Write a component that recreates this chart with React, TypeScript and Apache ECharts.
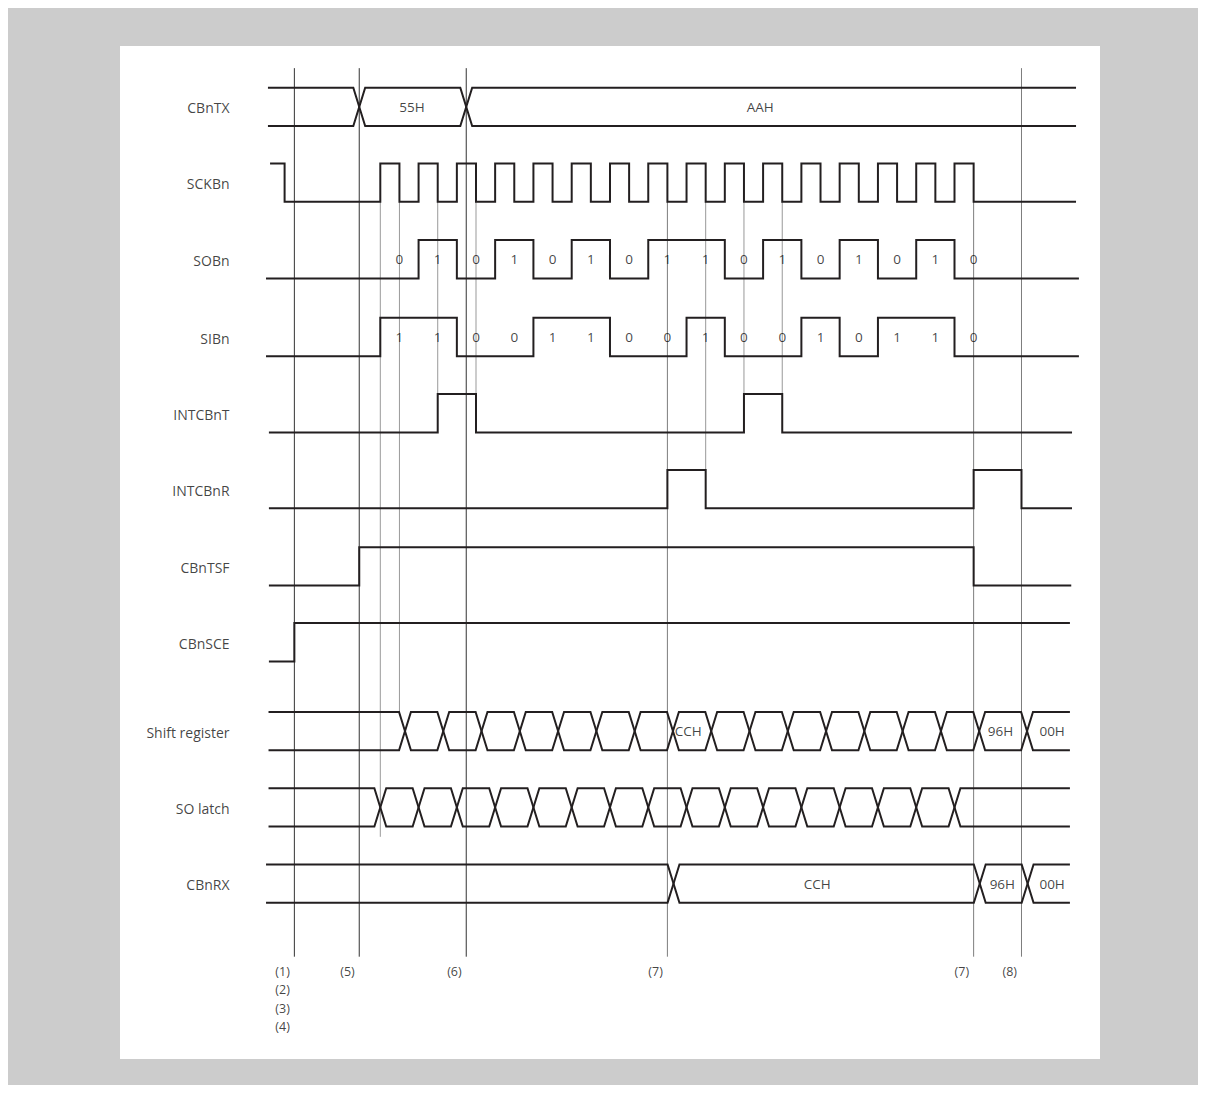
import React, { useEffect, useRef } from "react";
import * as echarts from "echarts";

// ---------- data ----------
const signalNames = [
  "CBnTX",
  "SCKBn",
  "SOBn",
  "SIBn",
  "INTCBnT",
  "INTCBnR",
  "CBnTSF",
  "CBnSCE",
  "Shift register",
  "SO latch",
  "CBnRX",
];

// time unit = half an SCKBn period; t = 0 is the first SCKBn rising edge
const sckIdleFall = -5.0;
const sckRises = [0, 2, 4, 6, 8, 10, 12, 14, 16, 18, 20, 22, 24, 26, 28, 30];
const sckFalls = [1, 3, 5, 7, 9, 11, 13, 15, 17, 19, 21, 23, 25, 27, 29, 31];
const sobnBits = [0, 1, 0, 1, 0, 1, 0, 1, 1, 0, 1, 0, 1, 0, 1, 0];
const sibnBits = [1, 1, 0, 0, 1, 1, 0, 0, 1, 0, 0, 1, 0, 1, 1, 0];
const intcbntPulses = [
  [3, 5],
  [19, 21],
];
const intcbnrPulses = [
  [15, 17],
  [31, 33.5],
];
const cbntsfPulse = [-1.1, 31];
const cbnsceRise = -4.49;

const cbntxChanges = [-1.1, 4.49];
const cbntxLabels = [
  { t: 1.66, text: "55H" },
  { t: 19.85, text: "AAH" },
];
const shiftChanges = [1, 3, 5, 7, 9, 11, 13, 15, 17, 19, 21, 23, 25, 27, 29, 31, 33.5];
const shiftLabels = [
  { t: 16.09, text: "CCH" },
  { t: 32.4, text: "96H" },
  { t: 35.1, text: "00H" },
];
const soLatchChanges = [0, 2, 4, 6, 8, 10, 12, 14, 16, 18, 20, 22, 24, 26, 28, 30];
const rxChanges = [15, 31, 33.5];
const rxLabels = [
  { t: 22.83, text: "CCH" },
  { t: 32.5, text: "96H" },
  { t: 35.1, text: "00H" },
];

const markers = [
  { t: -4.49, labels: ["(1)", "(2)", "(3)", "(4)"] },
  { t: -1.1, labels: ["(5)"] },
  { t: 4.49, labels: ["(6)"] },
  { t: 15, labels: ["(7)"] },
  { t: 31, labels: ["(7)"] },
  { t: 33.5, labels: ["(8)"] },
];

// guide lines: time, vertical extent (by named level) and tone
const guides = [
  { t: -4.49, from: "top", to: "bottom", tone: "dark" },
  { t: -1.1, from: "top", to: "bottom", tone: "dark" },
  { t: 0, from: "sckLow", to: "latchTail", tone: "grey" },
  { t: 1, from: "sckLow", to: "shiftTop", tone: "grey" },
  { t: 3, from: "sckLow", to: "intTHigh", tone: "grey" },
  { t: 4.49, from: "top", to: "bottom", tone: "dark" },
  { t: 5, from: "sckLow", to: "intTHigh", tone: "grey" },
  { t: 15, from: "sckLow", to: "bottom", tone: "mid" },
  { t: 17, from: "sckLow", to: "intRHigh", tone: "grey" },
  { t: 19, from: "sckLow", to: "intTHigh", tone: "grey" },
  { t: 21, from: "sckLow", to: "intTHigh", tone: "grey" },
  { t: 31, from: "sckLow", to: "bottom", tone: "mid" },
  { t: 33.5, from: "top", to: "bottom", tone: "mid" },
];

// ---------- layout ----------
const X_MIN = -10;
const X_MAX = 37;
const Y_MIN = -4;
const Y_MAX = 22.5;
const rowBase = [20.28, 18.3, 16.3, 14.27, 12.28, 10.3, 8.28, 6.3, 3.98, 1.99, 0];
const rowStart = [-5.87, -5.76, -5.97, -5.97, -5.82, -5.82, -5.82, -5.82, -5.84, -5.84, -5.97];
const rowEnd = [36.35, 36.35, 36.5, 36.5, 36.14, 36.14, 36.1, 36.03, 36.03, 36.03, 36.03];
const BUS_HALF = 0.31;
const levelY: Record<string, number> = {
  top: 21.79,
  bottom: -1.41,
  sckLow: rowBase[1],
  intTHigh: rowBase[4] + 1,
  intRHigh: rowBase[5] + 1,
  shiftTop: rowBase[8] + 1,
  latchTail: 1.72,
};
const NAME_T = -7.85;
const MARK_Y0 = -1.8;
const MARK_STEP = 0.478;
const INK = "#231f20";
const TEXT = "#111111";
const FONT = "'Open Sans', 'Noto Sans', sans-serif";
const toneColor: Record<string, string> = { dark: "#333333", mid: "#7d7d7d", grey: "#999999" };

// ---------- builders ----------
type Pt = [number, number];

function stepLine(row: number, initial: number, edges: [number, number][]): Pt[] {
  const b = rowBase[row];
  let lv = initial;
  const pts: Pt[] = [[rowStart[row], b + lv]];
  for (const [t, v] of edges) {
    pts.push([t, b + lv]);
    lv = v;
    pts.push([t, b + lv]);
  }
  pts.push([rowEnd[row], b + lv]);
  return pts;
}

function busRails(row: number, changes: number[], skew: number): Pt[][] {
  const b = rowBase[row];
  return [1, 0].map((startLv) => {
    let lv = startLv;
    const pts: Pt[] = [[rowStart[row], b + lv]];
    for (const c of changes) {
      const m = c + skew;
      pts.push([m - BUS_HALF, b + lv]);
      lv = 1 - lv;
      pts.push([m + BUS_HALF, b + lv]);
    }
    pts.push([rowEnd[row], b + lv]);
    return pts;
  });
}

function lineSeries(data: Pt[], color: string, width: number, z: number) {
  return {
    type: "line",
    data,
    symbol: "none",
    showSymbol: false,
    silent: true,
    animation: false,
    clip: false,
    z,
    lineStyle: { color, width, join: "miter" },
  };
}

type Txt = { t: number; y: number; text: string };
function textSeries(items: Txt[], fontSize: number, position: string) {
  return {
    type: "scatter",
    data: items.map((d) => [d.t, d.y, d.text]),
    symbol: "circle",
    symbolSize: 1,
    itemStyle: { color: "rgba(0,0,0,0)" },
    silent: true,
    animation: false,
    clip: false,
    z: 5,
    label: {
      show: true,
      position,
      distance: 0,
      formatter: (p: any) => p.value[2],
      color: TEXT,
      fontSize,
      fontFamily: FONT,
      textBorderWidth: 0,
      textBorderColor: "transparent",
      textShadowBlur: 0,
    },
  };
}

function buildOption() {
  const series: any[] = [];

  // guide lines
  for (const g of guides) {
    series.push(
      lineSeries(
        [
          [g.t, levelY[g.from]],
          [g.t, levelY[g.to]],
        ],
        toneColor[g.tone],
        1,
        2
      )
    );
  }

  // digital signals
  const sckEdges: [number, number][] = [[sckIdleFall, 0]];
  sckRises.forEach((r, i) => {
    sckEdges.push([r, 1]);
    sckEdges.push([sckFalls[i], 0]);
  });
  series.push(lineSeries(stepLine(1, 1, sckEdges), INK, 2, 3));
  series.push(
    lineSeries(stepLine(2, 0, sckRises.map((r, i) => [r, sobnBits[i]] as [number, number])), INK, 2, 3)
  );
  series.push(
    lineSeries(stepLine(3, 0, sckRises.map((r, i) => [r, sibnBits[i]] as [number, number])), INK, 2, 3)
  );
  const pulseEdges = (ps: number[][]) =>
    ps.flatMap(([a, b]) => [
      [a, 1],
      [b, 0],
    ]) as [number, number][];
  series.push(lineSeries(stepLine(4, 0, pulseEdges(intcbntPulses)), INK, 2, 3));
  series.push(lineSeries(stepLine(5, 0, pulseEdges(intcbnrPulses)), INK, 2, 3));
  series.push(lineSeries(stepLine(6, 0, pulseEdges([cbntsfPulse])), INK, 2, 3));
  series.push(lineSeries(stepLine(7, 0, [[cbnsceRise, 1]]), INK, 2, 3));

  // buses
  const buses: [number, number[], number][] = [
    [0, cbntxChanges, 0],
    [8, shiftChanges, 0.29],
    [9, soLatchChanges, 0],
    [10, rxChanges, 0.32],
  ];
  for (const [row, ch, skew] of buses) {
    for (const rail of busRails(row, ch, skew)) series.push(lineSeries(rail, INK, 2, 3));
  }

  // signal names
  series.push(
    textSeries(
      signalNames.map((n, i) => ({ t: NAME_T, y: rowBase[i] + 0.47, text: n })),
      14,
      "left"
    )
  );

  // bit values
  const bitItems: Txt[] = [];
  sckFalls.forEach((t, i) => {
    bitItems.push({ t, y: rowBase[2] + 0.5, text: String(sobnBits[i]) });
    bitItems.push({ t, y: rowBase[3] + 0.5, text: String(sibnBits[i]) });
  });
  series.push(textSeries(bitItems, 13.5, "inside"));

  // bus values
  const busItems: Txt[] = [
    ...cbntxLabels.map((d) => ({ t: d.t, y: rowBase[0] + 0.5, text: d.text })),
    ...shiftLabels.map((d) => ({ t: d.t, y: rowBase[8] + 0.5, text: d.text })),
    ...rxLabels.map((d) => ({ t: d.t, y: rowBase[10] + 0.5, text: d.text })),
  ];
  series.push(textSeries(busItems, 13.5, "inside"));

  // marker labels
  const markItems: Txt[] = [];
  for (const m of markers) {
    m.labels.forEach((s, j) => markItems.push({ t: m.t - 0.21, y: MARK_Y0 - j * MARK_STEP, text: s }));
  }
  series.push(textSeries(markItems, 12.5, "left"));

  return {
    animation: false,
    backgroundColor: "#cccccc",
    grid: { left: 180.9, right: 109.52, top: 32.95, bottom: 29.1 },
    xAxis: { type: "value", min: X_MIN, max: X_MAX, show: false },
    yAxis: { type: "value", min: Y_MIN, max: Y_MAX, show: false },
    graphic: {
      elements: [
        {
          type: "rect",
          z: -10,
          silent: true,
          shape: { x: 112, y: 38, width: 980, height: 1013 },
          style: { fill: "#ffffff" },
        },
      ],
    },
    series,
  };
}

export default function App() {
  const ref = useRef<HTMLDivElement>(null);
  useEffect(() => {
    if (!ref.current) return;
    const chart = echarts.init(ref.current, null, { renderer: "svg" });
    chart.setOption(buildOption() as any);
    return () => chart.dispose();
  }, []);
  return <div ref={ref} style={{ width: 1190, height: 1077, background: "#cccccc" }} />;
}
